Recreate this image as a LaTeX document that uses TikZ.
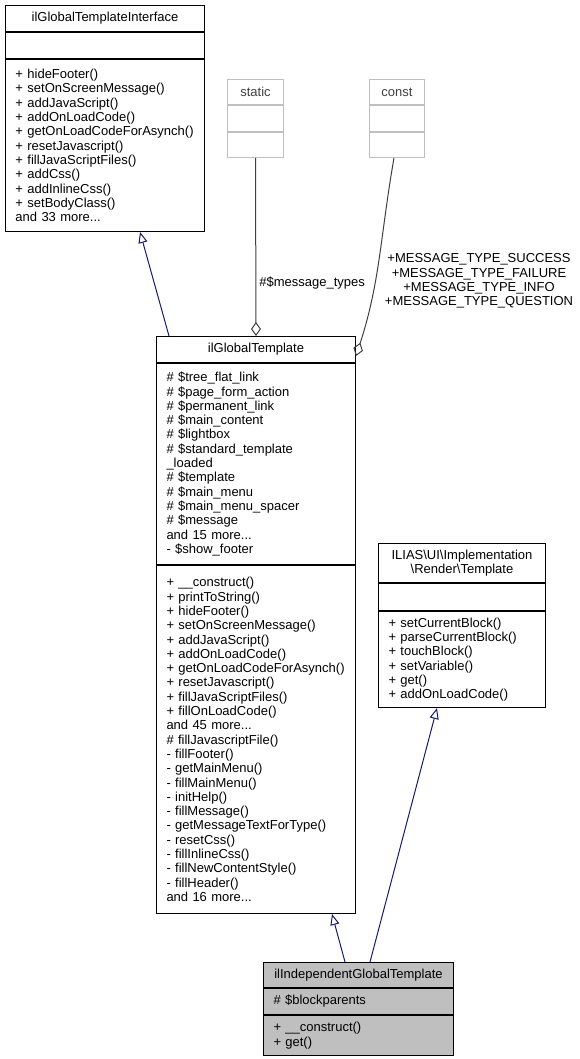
\documentclass[tikz,border=0pt]{standalone}
\usepackage{fontspec}
\setmainfont{Liberation Sans}
\usetikzlibrary{positioning,arrows.meta}
\definecolor{edgeblue}{RGB}{25,25,112}
\definecolor{aggrgray}{RGB}{64,64,64}
\definecolor{boxgray}{RGB}{191,191,191}

\begin{document}
\begin{tikzpicture}[x=1pt, y=1pt,
	cls/.style={draw, line width=1pt, fill=white, inner xsep=10pt, inner ysep=0pt, font=\fontsize{13}{14.3}\selectfont},
	ttl/.style={cls, align=center},
	mem/.style={cls, align=left},
	ghost/.style={draw=boxgray, text=aggrgray},
	inherit/.style={draw=edgeblue, line width=1pt, -{Triangle[open, length=11pt, width=9pt]}},
	aggr/.style={draw=aggrgray, line width=1pt, -{Diamond[open, length=14pt, width=10pt]}},
	lbl/.style={inner sep=1pt, font=\fontsize{13}{14.3}\selectfont, align=center}]

	\useasboundingbox (0,0) rectangle (579,-1059);

	% ilGlobalTemplateInterface
	\node[ttl, minimum width=199pt, minimum height=26pt, anchor=north west] (ifT) at (5,-5) {ilGlobalTemplateInterface};
	\node[mem, text width=179pt, minimum height=26pt, below=0pt of ifT] (ifA) {};
	\node[mem, text width=179pt, minimum height=172pt, below=0pt of ifA] (ifM) {+ hideFooter()\\+ setOnScreenMessage()\\+ addJavaScript()\\+ addOnLoadCode()\\+ getOnLoadCodeForAsynch()\\+ resetJavascript()\\+ fillJavaScriptFiles()\\+ addCss()\\+ addInlineCss()\\+ setBodyClass()\\and 33 more...};

	% static / const
	\node[ttl, ghost, minimum width=56pt, minimum height=25pt, anchor=north west] (stT) at (227,-79) {static};
	\node[ttl, ghost, minimum width=56pt, minimum height=26pt, below=0pt of stT] (stA) {};
	\node[ttl, ghost, minimum width=56pt, minimum height=25pt, below=0pt of stA] (stM) {};

	\node[ttl, ghost, minimum width=55pt, minimum height=25pt, anchor=north west] (coT) at (369,-79) {const};
	\node[ttl, ghost, minimum width=55pt, minimum height=26pt, below=0pt of coT] (coA) {};
	\node[ttl, ghost, minimum width=55pt, minimum height=25pt, below=0pt of coA] (coM) {};

	% ilGlobalTemplate
	\node[ttl, minimum width=199pt, minimum height=26pt, anchor=north west] (gtT) at (156,-336) {ilGlobalTemplate};
	\node[mem, text width=179pt, minimum height=201pt, below=0pt of gtT] (gtA) {\# \$tree\_flat\_link\\\# \$page\_form\_action\\\# \$permanent\_link\\\# \$main\_content\\\# \$lightbox\\\# \$standard\_template\\\_loaded\\\# \$template\\\# \$main\_menu\\\# \$main\_menu\_spacer\\\# \$message\\and 15 more...\\- \$show\_footer};
	\node[mem, text width=179pt, minimum height=348pt, below=0pt of gtA] (gtM) {+ \_\_construct()\\+ printToString()\\+ hideFooter()\\+ setOnScreenMessage()\\+ addJavaScript()\\+ addOnLoadCode()\\+ getOnLoadCodeForAsynch()\\+ resetJavascript()\\+ fillJavaScriptFiles()\\+ fillOnLoadCode()\\and 45 more...\\\# fillJavascriptFile()\\- fillFooter()\\- getMainMenu()\\- fillMainMenu()\\- initHelp()\\- fillMessage()\\- getMessageTextForType()\\- resetCss()\\- fillInlineCss()\\- fillNewContentStyle()\\- fillHeader()\\and 16 more...};

	% ILIAS\UI\Implementation\Render\Template
	\node[ttl, minimum width=167pt, minimum height=39pt, anchor=north west] (rtT) at (378,-543) {ILIAS\textbackslash UI\textbackslash Implementation\\\textbackslash Render\textbackslash Template};
	\node[mem, text width=147pt, minimum height=27pt, below=0pt of rtT] (rtA) {};
	\node[mem, text width=147pt, minimum height=96pt, below=0pt of rtA] (rtM) {+ setCurrentBlock()\\+ parseCurrentBlock()\\+ touchBlock()\\+ setVariable()\\+ get()\\+ addOnLoadCode()};

	% ilIndependentGlobalTemplate
	\node[ttl, fill=boxgray, minimum width=190pt, minimum height=25pt, anchor=north west] (inT) at (263,-962) {ilIndependentGlobalTemplate};
	\node[mem, fill=boxgray, text width=170pt, minimum height=26pt, below=0pt of inT] (inA) {\# \$blockparents};
	\node[mem, fill=boxgray, text width=170pt, minimum height=40pt, below=0pt of inA] (inM) {+ \_\_construct()\\+ get()};

	\draw[inherit] ([xshift=13pt]gtT.north west) -- ([xshift=135pt]ifM.south west);
	\draw[aggr] (stM.south) -- node[lbl, pos=0.7, right=2pt] (stL) {\#\$message\_types} (gtT.north);
	\draw[aggr] ([xshift=-3pt]coM.south) to[out=-100, in=72] ([yshift=-20pt]gtT.north east);
	\node[lbl] (coL) at (479,-281) {+MESSAGE\_TYPE\_SUCCESS\\+MESSAGE\_TYPE\_FAILURE\\+MESSAGE\_TYPE\_INFO\\+MESSAGE\_TYPE\_QUESTION};
	\draw[inherit] ([xshift=82pt]inT.north west) -- ([xshift=176pt]gtM.south west);
	\draw[inherit] ([xshift=107pt]inT.north west) -- ([xshift=59pt]rtM.south west);
\end{tikzpicture}
\end{document}
